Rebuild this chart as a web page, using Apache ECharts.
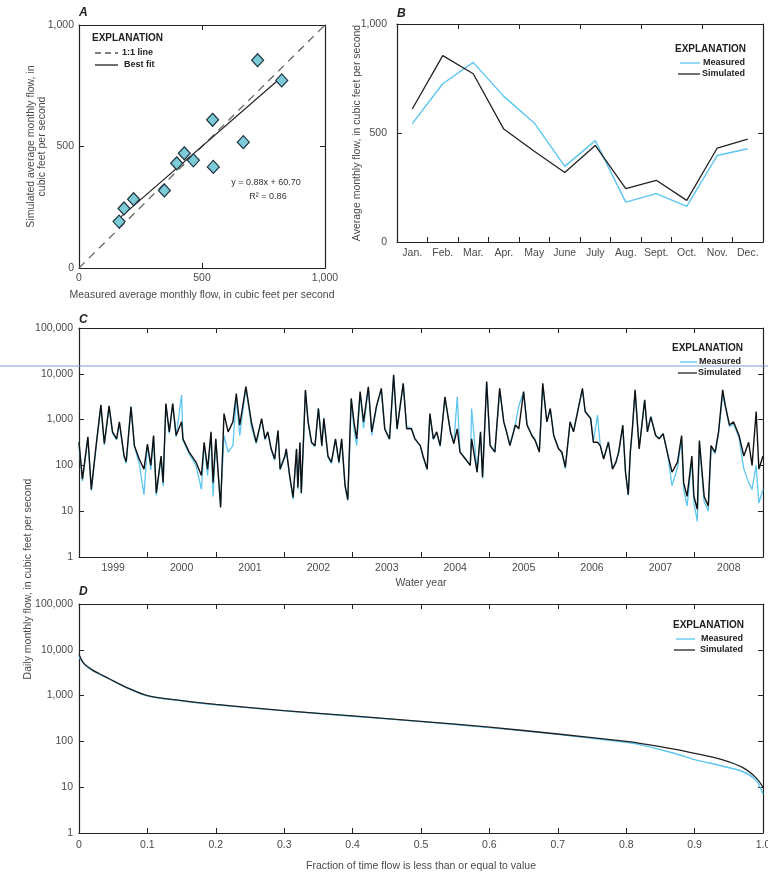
<!DOCTYPE html>
<html>
<head>
<meta charset="utf-8">
<script src="https://cdn.jsdelivr.net/npm/echarts@6/dist/echarts.min.js"></script>
<style>
    html, body { margin: 0; padding: 0; background: #fff; }
    #main { width: 768px; height: 877px; }
</style>
</head>
<body>
<div id="main"></div>
<script>
    // panels A and B: average monthly flow, cubic feet per second
    var months = ['Jan.', 'Feb.', 'Mar.', 'Apr.', 'May', 'June', 'July', 'Aug.', 'Sept.', 'Oct.', 'Nov.', 'Dec.']
    var monthlyMeasured = [543, 726, 824, 668, 546, 347, 465, 183, 222, 163, 397, 428]
    var monthlySimulated = [610, 855, 772, 518, 416, 319, 443, 245, 283, 191, 431, 472]
    var fitSlope = 0.88
    var fitIntercept = 60.70

    // panel C: daily flow, time in water years counted from Oct. 1, 1998
    var waterYears = ['1999', '2000', '2001', '2002', '2003', '2004', '2005', '2006', '2007', '2008']
    var dailyTime = [0.00, 0.05, 0.13, 0.18, 0.25, 0.32, 0.37, 0.44, 0.49, 0.55, 0.59, 0.66, 0.69, 0.76, 0.81, 0.88, 0.95,
        1.00, 1.05, 1.09, 1.13, 1.20, 1.23, 1.27, 1.32, 1.37, 1.42, 1.50, 1.52, 1.61, 1.71, 1.79, 1.83, 1.88, 1.93, 1.96,
        2.00, 2.07, 2.12, 2.18, 2.25, 2.30, 2.35, 2.44, 2.52, 2.59, 2.67, 2.72, 2.76, 2.81, 2.86, 2.91, 2.94,
        3.01, 3.03, 3.08, 3.13, 3.18, 3.20, 3.23, 3.25, 3.28, 3.31, 3.35, 3.40, 3.45, 3.50, 3.55, 3.58, 3.64, 3.69, 3.75, 3.80, 3.84, 3.89, 3.93, 3.96, 3.98,
        4.02, 4.06, 4.11, 4.16, 4.23, 4.28, 4.35, 4.42, 4.47, 4.54, 4.60, 4.65, 4.74, 4.79, 4.86, 4.91, 4.99,
        5.03, 5.09, 5.13, 5.18, 5.23, 5.28, 5.35, 5.43, 5.48, 5.53, 5.57, 5.65, 5.72, 5.74, 5.82, 5.87, 5.90, 5.96,
        6.01, 6.08, 6.15, 6.21, 6.25, 6.30, 6.38, 6.43, 6.50, 6.55, 6.62, 6.67, 6.73, 6.78, 6.84, 6.89, 6.94,
        7.01, 7.06, 7.11, 7.18, 7.23, 7.30, 7.36, 7.40, 7.48, 7.52, 7.58, 7.62, 7.67, 7.74, 7.80, 7.85, 7.89, 7.95, 7.99,
        8.03, 8.06, 8.09, 8.13, 8.19, 8.27, 8.31, 8.36, 8.43, 8.48, 8.54, 8.60, 8.67, 8.75, 8.81, 8.84, 8.89, 8.96, 8.99,
        9.04, 9.07, 9.14, 9.20, 9.24, 9.30, 9.35, 9.41, 9.45, 9.51, 9.57, 9.65, 9.72, 9.79, 9.84, 9.90, 9.94, 10.00]
    var dailySimulated = [320, 50, 420, 30, 270, 2100, 300, 2000, 540, 380, 890, 160, 120, 1900, 270, 138, 83,
        290, 100, 450, 25, 160, 42, 2250, 540, 2250, 450, 900, 380, 195, 118, 60, 320, 83, 540, 42,
        380, 12, 1350, 540, 890, 3700, 760, 5250, 890, 320, 1050, 380, 540, 230, 138, 580, 83,
        160, 230, 60, 20, 230, 33, 320, 25, 300, 4450, 890, 320, 270, 1750, 270, 1050, 160, 118, 380, 118, 380, 36, 18, 450, 2900,
        890, 380, 4100, 890, 5200, 540, 2000, 4800, 630, 380, 9500, 630, 6200, 630, 630, 380, 270,
        160, 83, 1350, 380, 540, 270, 3150, 540, 300, 630, 195, 138, 100, 380, 71, 540, 55, 6800,
        270, 195, 4800, 890, 540, 270, 760, 630, 4100, 760, 450, 350, 195, 6200, 890, 1750, 450,
        230, 195, 91, 890, 540, 1750, 4800, 1500, 1050, 320, 320, 270, 138, 320, 83, 118, 195, 760, 71,
        23, 195, 630, 4450, 230, 2700, 540, 1150, 450, 380, 490, 195, 71, 118, 450, 42, 21, 160, 21,
        11, 350, 21, 13, 270, 195, 540, 4450, 2000, 760, 890, 450, 160, 320, 100, 1500, 83, 160]
    var dailyMeasured = [300, 45, 400, 28, 250, 2000, 280, 1900, 500, 360, 850, 150, 110, 1950, 260, 110, 23,
        280, 80, 430, 22, 150, 35, 2100, 500, 2200, 420, 3450, 360, 180, 100, 30, 300, 60, 500, 21,
        350, 14, 450, 195, 270, 3000, 450, 5000, 700, 300, 1000, 360, 520, 220, 130, 550, 80,
        150, 220, 55, 18, 220, 30, 300, 24, 280, 4200, 850, 300, 260, 1800, 260, 1100, 150, 110, 360, 110, 360, 34, 17, 300, 2800,
        600, 270, 3800, 650, 5000, 450, 1900, 4500, 600, 370, 9000, 600, 6000, 700, 650, 400, 260,
        150, 80, 1300, 370, 520, 260, 3000, 560, 300, 3150, 200, 140, 100, 1750, 70, 520, 52, 6500,
        280, 200, 4500, 900, 560, 280, 800, 2000, 4000, 780, 470, 360, 200, 5800, 900, 1700, 470,
        240, 180, 85, 900, 560, 1800, 4500, 1500, 1100, 330, 1260, 280, 140, 330, 85, 115, 200, 700, 70,
        22, 190, 600, 4200, 240, 2600, 560, 1200, 470, 390, 500, 200, 36, 90, 400, 30, 13, 130, 15,
        6, 300, 16, 10, 250, 180, 480, 3500, 1900, 700, 800, 400, 83, 42, 30, 100, 15, 30]

    // panel D: flow duration
    var durationFraction = [0, 0.005, 0.01, 0.02, 0.03, 0.045, 0.07, 0.1, 0.15, 0.2, 0.3, 0.4, 0.5, 0.6, 0.7, 0.8, 0.82, 0.87, 0.9, 0.94, 0.97, 0.99, 1.0]
    var durationSimulated = [8000, 5600, 4600, 3600, 3000, 2300, 1500, 1000, 780, 640, 470, 360, 275, 205, 145, 100, 91, 68, 55, 40, 27, 16, 10]
    var durationMeasured = [7000, 5400, 4500, 3500, 2950, 2250, 1480, 990, 770, 630, 465, 355, 270, 200, 142, 96, 85, 55, 40, 29, 22, 14, 7]

    var font = "'Liberation Sans Narrow', 'Liberation Sans', Arial, sans-serif"
    var ink = '#222'
    var labelColor = '#4a4a4a'
    var blue = '#5cc6ef'

    function commas(v) {
        return Math.round(v).toString().replace(/\B(?=(\d{3})+(?!\d))/g, ',')
    }

    function frame(extra) {
        var axis = {
            axisLine: {show: true, onZero: false, lineStyle: {color: ink, width: 1.2}},
            axisTick: {show: true, inside: true, length: 5, lineStyle: {color: ink, width: 1}},
            splitLine: {show: false},
            axisLabel: {show: false},
            nameMoveOverlap: false
        }
        return Object.assign(axis, extra)
    }

    function labels(margin, formatter) {
        var l = {show: true, margin: margin, color: labelColor, fontSize: 10.5, fontFamily: font, interval: 0}
        if (formatter) l.formatter = formatter
        return l
    }

    var nameStyle = {color: labelColor, fontSize: 10.5, fontFamily: font, lineHeight: 11}

    function pairs(xs, ys) {
        return xs.map((x, i) => [x, ys[i]])
    }

    var fitLo = Math.min.apply(null, monthlyMeasured)
    var fitHi = Math.max.apply(null, monthlyMeasured)

    var logAxis = {type: 'log', logBase: 10, min: 1, max: 100000, splitNumber: 5}

    var option = {
        animation: false,
        textStyle: {fontFamily: font},
        grid: [
            {left: 79, top: 25, width: 246, height: 243, outerBoundsMode: 'none'},
            {left: 397, top: 24, width: 366, height: 218, outerBoundsMode: 'none'},
            {left: 79, top: 328, width: 684, height: 229, outerBoundsMode: 'none'},
            {left: 79, top: 604, width: 684, height: 229, outerBoundsMode: 'none'}
        ],
        xAxis: [
            frame({gridIndex: 0, type: 'value', position: 'bottom', min: 0, max: 1000, interval: 500,
                axisLabel: labels(5, commas),
                name: 'Measured average monthly flow, in cubic feet per second',
                nameLocation: 'middle', nameGap: 22, nameTextStyle: nameStyle}),
            frame({gridIndex: 0, type: 'value', position: 'top', min: 0, max: 1000, interval: 500}),
            frame({gridIndex: 1, type: 'category', position: 'bottom', data: months, boundaryGap: true,
                axisLabel: labels(6)}),
            frame({gridIndex: 1, type: 'category', position: 'top', data: months, boundaryGap: true}),
            frame({gridIndex: 2, type: 'category', position: 'bottom', data: waterYears, boundaryGap: true,
                axisLabel: labels(6),
                name: 'Water year', nameLocation: 'middle', nameGap: 21, nameTextStyle: nameStyle}),
            frame({gridIndex: 2, type: 'category', position: 'top', data: waterYears, boundaryGap: true}),
            {gridIndex: 2, type: 'value', min: 0, max: 10, show: false},
            frame({gridIndex: 3, type: 'value', position: 'bottom', min: 0, max: 1, interval: 0.1,
                axisLabel: labels(7, v => v === 0 ? '0' : v.toFixed(1)),
                name: 'Fraction of time flow is less than or equal to value',
                nameLocation: 'middle', nameGap: 28, nameTextStyle: nameStyle}),
            frame({gridIndex: 3, type: 'value', position: 'top', min: 0, max: 1, interval: 0.1})
        ],
        yAxis: [
            frame({gridIndex: 0, type: 'value', position: 'left', min: 0, max: 1000, interval: 500,
                axisLabel: labels(5, commas),
                name: 'Simulated average monthly flow, in\ncubic feet per second',
                nameLocation: 'middle', nameGap: 31, nameTextStyle: nameStyle}),
            frame({gridIndex: 0, type: 'value', position: 'right', min: 0, max: 1000, interval: 500}),
            frame({gridIndex: 1, type: 'value', position: 'left', min: 0, max: 1000, interval: 500,
                axisLabel: labels(10, commas),
                name: 'Average monthly flow, in cubic feet per second',
                nameLocation: 'middle', nameGap: 34, nameTextStyle: nameStyle}),
            frame({gridIndex: 1, type: 'value', position: 'right', min: 0, max: 1000, interval: 500}),
            frame(Object.assign({gridIndex: 2, position: 'left', axisLabel: labels(6, commas)}, logAxis)),
            frame(Object.assign({gridIndex: 2, position: 'right'}, logAxis)),
            frame(Object.assign({gridIndex: 3, position: 'left', axisLabel: labels(6, commas)}, logAxis)),
            frame(Object.assign({gridIndex: 3, position: 'right'}, logAxis))
        ],
        series: [
            {
                name: '1:1 line', type: 'line', xAxisIndex: 0, yAxisIndex: 0,
                data: [[0, 0], [1000, 1000]], symbol: 'none',
                lineStyle: {color: '#666', width: 1.3, type: [8, 6]}
            },
            {
                name: 'Best fit', type: 'line', xAxisIndex: 0, yAxisIndex: 0,
                data: [[fitLo, fitSlope * fitLo + fitIntercept], [fitHi, fitSlope * fitHi + fitIntercept]],
                symbol: 'none', lineStyle: {color: ink, width: 1.2}
            },
            {
                name: 'Months', type: 'scatter', xAxisIndex: 0, yAxisIndex: 0,
                data: pairs(monthlyMeasured, monthlySimulated),
                symbol: 'diamond', symbolSize: [12, 13],
                itemStyle: {color: '#7ccbd6', borderColor: '#1d3440', borderWidth: 1.2, opacity: 1},
                z: 5
            },
            {
                name: 'Measured', type: 'line', xAxisIndex: 2, yAxisIndex: 2,
                data: monthlyMeasured, symbol: 'none', lineStyle: {color: blue, width: 1.4}
            },
            {
                name: 'Simulated', type: 'line', xAxisIndex: 2, yAxisIndex: 2,
                data: monthlySimulated, symbol: 'none', lineStyle: {color: ink, width: 1.3}
            },
            {
                name: 'Measured daily', type: 'line', xAxisIndex: 6, yAxisIndex: 4,
                data: pairs(dailyTime, dailyMeasured), symbol: 'none', lineStyle: {color: blue, width: 1.3}
            },
            {
                name: 'Simulated daily', type: 'line', xAxisIndex: 6, yAxisIndex: 4,
                data: pairs(dailyTime, dailySimulated), symbol: 'none', lineStyle: {color: '#111', width: 1.4}
            },
            {
                name: 'Measured duration', type: 'line', xAxisIndex: 7, yAxisIndex: 6,
                data: pairs(durationFraction, durationMeasured), symbol: 'none', smooth: 0.3,
                lineStyle: {color: blue, width: 1.4}
            },
            {
                name: 'Simulated duration', type: 'line', xAxisIndex: 7, yAxisIndex: 6,
                data: pairs(durationFraction, durationSimulated), symbol: 'none', smooth: 0.3,
                lineStyle: {color: ink, width: 1.3}
            }
        ],
        graphic: []
    }

    function text(x, y, str, style) {
        return {type: 'text', x: x, y: y, z: 10,
            style: Object.assign({text: str, fill: ink, font: '11px ' + font, verticalAlign: 'middle'}, style)}
    }

    function seg(x1, x2, y, color, dash) {
        return {type: 'line', z: 10, shape: {x1: x1, y1: y, x2: x2, y2: y},
            style: {stroke: color, lineWidth: 1.3, lineDash: dash || null}}
    }

    function explanation(x, y, rightEdge, lineFrom, lineTo) {
        return [
            text(x, y, 'EXPLANATION', {font: 'bold 10px ' + font}),
            seg(lineFrom, lineTo, y + 14, blue),
            text(rightEdge, y + 14, 'Measured', {font: 'bold 9px ' + font, align: 'right'}),
            seg(lineFrom - 2, lineTo, y + 25, ink),
            text(rightEdge, y + 25, 'Simulated', {font: 'bold 9px ' + font, align: 'right'})
        ]
    }

    var bold = 'italic bold 12px ' + font
    option.graphic = [].concat(
        [
            text(79, 13, 'A', {font: bold}),
            text(397, 14, 'B', {font: bold}),
            text(79, 320, 'C', {font: bold}),
            text(79, 592, 'D', {font: bold}),
            text(92, 38, 'EXPLANATION', {font: 'bold 10px ' + font}),
            seg(95, 118, 53, '#555', [6, 4]),
            text(122, 53, '1:1 line', {font: 'bold 9px ' + font}),
            seg(95, 118, 65, ink),
            text(124, 65, 'Best fit', {font: 'bold 9px ' + font}),
            text(266, 183, 'y = 0.88x + 60.70', {font: '9px ' + font, align: 'center', fill: '#333'}),
            text(268, 197, 'R\u00b2 = 0.86', {font: '9px ' + font, align: 'center', fill: '#333'}),
            {type: 'text', x: 28, y: 579, rotation: Math.PI / 2, z: 10,
                style: {text: 'Daily monthly flow, in cubic feet per second', fill: labelColor,
                    font: '10.5px ' + font, align: 'center', verticalAlign: 'middle'}},
            {type: 'line', z: 20, shape: {x1: 0, y1: 366, x2: 768, y2: 366},
                style: {stroke: '#7f9ccf', lineWidth: 1}}
        ],
        explanation(675, 49, 745, 680, 700),
        explanation(672, 348, 741, 680, 697),
        explanation(673, 625, 743, 676, 695)
    )

    var myChart = echarts.init(document.getElementById('main'))
    myChart.setOption(option)
</script>
</body>
</html>
